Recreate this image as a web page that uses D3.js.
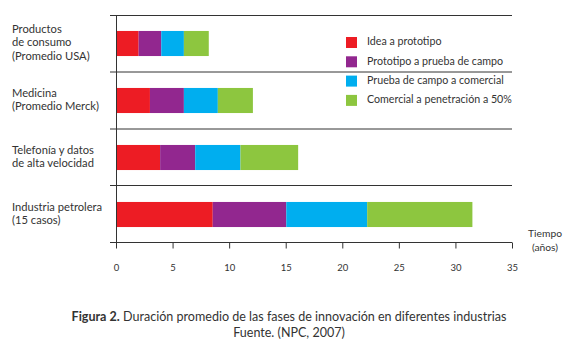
<!DOCTYPE html>
<html><head><meta charset="utf-8">
<script src="https://cdn.jsdelivr.net/npm/d3@7"></script>
<style>body{margin:0;background:#fff}svg{display:block}text{font-family:Lato,"Open Sans",sans-serif;fill:#333}</style>
</head><body><svg id="c" width="570" height="349"></svg>
<script>
const categories = [
  ["Productos","de consumo","(Promedio USA)"],
  ["Medicina","(Promedio Merck)"],
  ["Telefonía y datos","de alta velocidad"],
  ["Industria petrolera","(15 casos)"]
];
const phases = ["Idea a prototipo","Prototipo a prueba de campo","Prueba de campo a comercial","Comercial a penetración a 50%"];
const colors = ["#ED1C24","#92278F","#00AEEF","#8DC63F"];
// durations per phase (years)
const ideaPrototipo     = [2, 3, 3.9, 8.55];
const prototipoPrueba   = [2, 3, 3.1, 6.5];
const pruebaComercial   = [2, 3, 4, 7.15];
const comercialPenetr   = [2.2, 3.1, 5.1, 9.3];
const ticks = [0,5,10,15,20,25,30,35];

const series = [ideaPrototipo, prototipoPrueba, pruebaComercial, comercialPenetr];
const svg = d3.select("#c");
const x = d3.scaleLinear().domain([0,35]).range([116,512]);
const y = d3.scaleBand().domain(d3.range(categories.length)).range([15,243]).paddingInner(0.56).paddingOuter(0.28);

function fit(sel, target){
  const n = sel.node();
  const fs = parseFloat(sel.style("font-size"));
  const w = n.getComputedTextLength();
  sel.style("font-size", (fs*target/w).toFixed(2)+"px");
  return fs*target/w;
}

// horizontal separators
const seps = [15,71.5,128.5,185];
svg.selectAll("line.sep").data(seps).enter().append("line")
  .attr("x1",110).attr("x2",512).attr("y1",d=>d+0.5).attr("y2",d=>d+0.5)
  .attr("stroke","#333").attr("stroke-width",1);

// stacked data
const rows = categories.map((c,i)=>{let acc=0;return series.map((s,k)=>{const a=acc;acc+=s[i];return {i,k,x0:a,x1:acc};});}).flat();
svg.selectAll("rect.bar").data(rows).enter().append("rect")
  .attr("x",d=>x(d.x0)).attr("width",d=>x(d.x1)-x(d.x0))
  .attr("y",d=>y(d.i)).attr("height",y.bandwidth())
  .attr("fill",d=>colors[d.k]);

// axes
svg.append("line").attr("x1",116.5).attr("x2",116.5).attr("y1",15).attr("y2",242).attr("stroke","#333");
const ax = svg.append("g").attr("transform","translate(0,242.5)")
  .call(d3.axisBottom(x).tickValues(ticks).tickSize(6).tickPadding(16).tickSizeOuter(0));
ax.select(".domain").attr("stroke","#333").attr("d","M110,0H512");
ax.selectAll(".tick line").attr("stroke","#333");
ax.selectAll(".tick text").style("font-family","Lato").style("font-size","9.5px").attr("fill","#333");

// category labels
const probe = svg.append("text").style("font-size","10px").text("(Promedio Merck)");
const catFs = fit(probe, 87); probe.remove();
categories.forEach((lines,i)=>{
  const cy = y(i)+y.bandwidth()/2;
  const lh = 13.5;
  const t = svg.append("text").attr("x",12).attr("y",cy-(lines.length-1)*lh/2).style("font-size",catFs+"px");
  lines.forEach((l,j)=>t.append("tspan").attr("x",12).attr("dy",j?lh:0).attr("dominant-baseline","middle").text(l));
});

// legend
const lp = svg.append("text").style("font-size","10px").text(phases[3]);
const legFs = fit(lp,145); lp.remove();
phases.forEach((p,k)=>{
  const cy = 42.5 + k*19.3;
  svg.append("rect").attr("x",346).attr("y",cy-5.5).attr("width",11).attr("height",11).attr("fill",colors[k]);
  svg.append("text").attr("x",367).attr("y",cy).attr("dominant-baseline","middle").style("font-size",legFs+"px").text(p);
});

// axis title
const t1 = svg.append("text").attr("x",545).attr("y",234).attr("text-anchor","middle").attr("dominant-baseline","middle").style("font-size","10px").text("Tiempo");
fit(t1,34);
svg.append("text").attr("x",545).attr("y",248).attr("text-anchor","middle").attr("dominant-baseline","middle").style("font-size",t1.style("font-size")).text("(años)");

// caption
const cap = svg.append("text").attr("x",289).attr("y",318).attr("text-anchor","middle").attr("dominant-baseline","middle").style("font-size","10px");
cap.append("tspan").style("font-weight","bold").text("Figura 2.");
cap.append("tspan").text(" Duración promedio de las fases de innovación en diferentes industrias");
const capFs = fit(cap,435);
svg.append("text").attr("x",289).attr("y",334).attr("text-anchor","middle").attr("dominant-baseline","middle").style("font-size",capFs+"px").text("Fuente. (NPC, 2007)");
</script></body></html>
